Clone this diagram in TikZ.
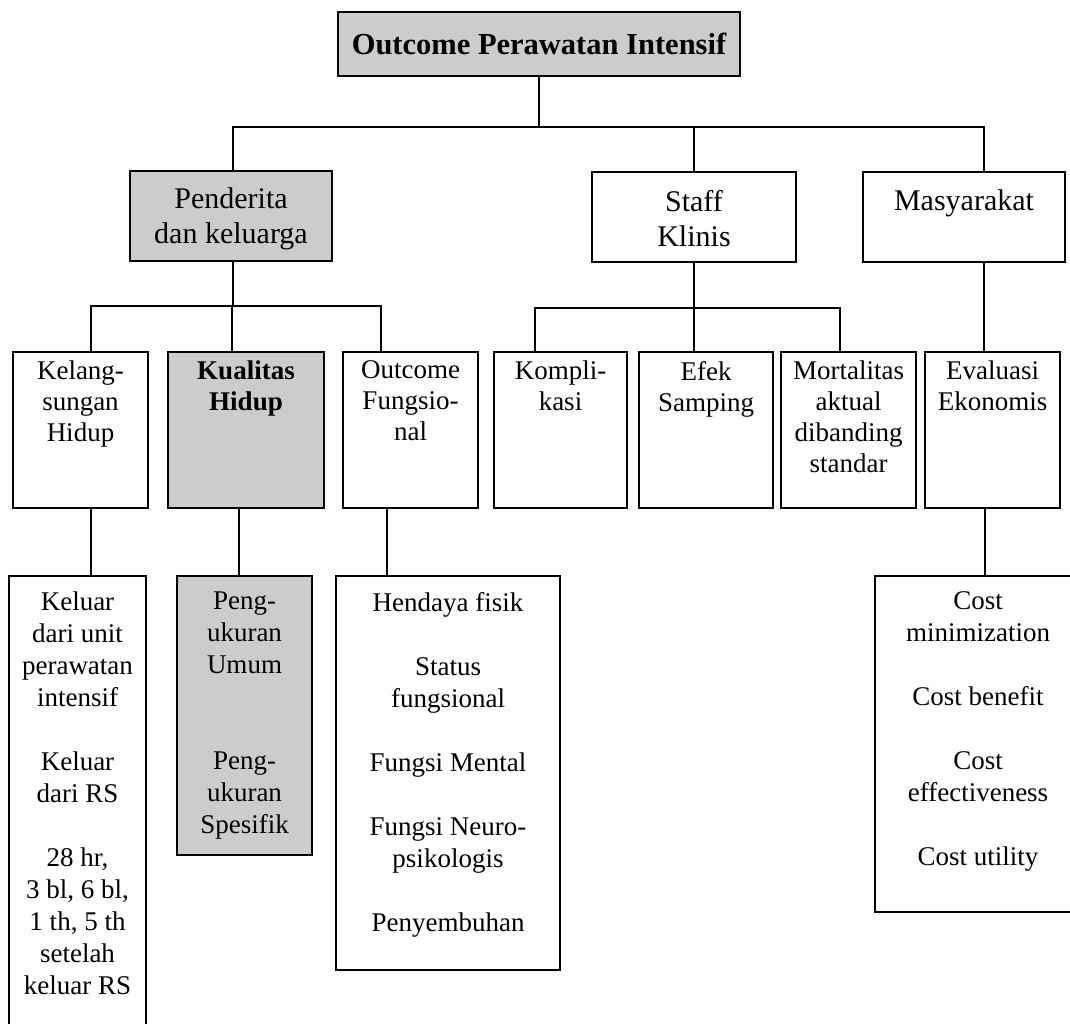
\documentclass[tikz,border=0pt]{standalone}
\usepackage{fontspec}
\setmainfont{Liberation Serif}
\begin{document}
\begin{tikzpicture}[x=1pt,y=-1pt,
  bx/.style={draw=black, line width=2.4pt, fill=white, inner sep=0pt},
  shaded/.style={bx, fill=black!20},
  conn/.style={draw=black, line width=2pt},
  tl/.style={inner sep=0pt, align=center, anchor=north, font=\fontsize{27}{32}\selectfont},
  tm/.style={inner sep=0pt, align=center, anchor=north, font=\fontsize{27}{31}\selectfont},
  tt/.style={inner sep=0pt, align=center, anchor=north, font=\fontsize{30}{35}\selectfont}]
\path[use as bounding box, clip] (0,0) rectangle (1070,1023);
\fill[white] (0,0) rectangle (1070,1023);

% title
\node[shaded, minimum width=402pt, minimum height=64pt] (T) at (539,44)
  {\fontsize{30.5}{36}\selectfont\bfseries Outcome Perawatan Intensif};

% level 2
\node[shaded, minimum width=202pt, minimum height=90pt] (P) at (231,216) {};
\node[bx, minimum width=204pt, minimum height=90pt] (S) at (694,217) {};
\node[bx, minimum width=202pt, minimum height=90pt] (M) at (964,217) {};
\node[tt] (Pt) at ([yshift=-18pt]P.north) {Penderita\\dan keluarga};
\node[tt] (St) at ([yshift=-19pt]S.north) {Staff\\Klinis};
\node[tt] (Mt) at ([yshift=-19pt]M.north) {Masyarakat};

% level 3
\node[bx, minimum width=135pt, minimum height=156pt] (Kel) at (80.5,430) {};
\node[shaded, minimum width=156pt, minimum height=156pt] (Kual) at (246,430) {};
\node[bx, minimum width=135pt, minimum height=156pt] (OF) at (410.5,430) {};
\node[bx, minimum width=133pt, minimum height=156pt] (Ko) at (560.5,430) {};
\node[bx, minimum width=134pt, minimum height=156pt] (Ef) at (706,430) {};
\node[bx, minimum width=135pt, minimum height=156pt] (Mo) at (848.5,430) {};
\node[bx, minimum width=135pt, minimum height=156pt] (Ev) at (992.5,430) {};
\node[tm] (Kelt) at ([yshift=-10pt]Kel.north) {Kelang-\\sungan\\Hidup};
\node[tm] (Kualt) at ([yshift=-10pt]Kual.north) {\bfseries Kualitas\\\bfseries Hidup};
\node[tm] (OFt) at ([yshift=-10pt]OF.north) {Outcome\\Fungsio-\\nal};
\node[tm] (Kot) at ([yshift=-10pt]Ko.north) {Kompli-\\kasi};
\node[tm] (Eft) at ([yshift=-10pt]Ef.north) {Efek\\Samping};
\node[tm] (Mot) at ([yshift=-10pt]Mo.north) {Mortalitas\\aktual\\dibanding\\standar};
\node[tm] (Evt) at ([yshift=-10pt]Ev.north) {Evaluasi\\Ekonomis};

% level 4
\node[bx, minimum width=137pt, minimum height=464pt] (Kl) at (77.5,808) {};
\node[shaded, minimum width=135pt, minimum height=279pt] (Pg) at (244.5,715.5) {};
\node[bx, minimum width=224pt, minimum height=394pt] (Hd) at (448,773) {};
\node[bx, minimum width=206pt, minimum height=336pt] (Ct) at (978,744) {};
\node[tl] (Klt) at ([yshift=-17pt]Kl.north)
  {Keluar\\dari unit\\perawatan\\intensif\\[32pt]Keluar\\dari RS\\[32pt]28 hr,\\3 bl, 6 bl,\\1 th, 5 th\\setelah\\keluar RS};
\node[tl] (Pgt) at ([yshift=-17pt]Pg.north)
  {Peng-\\ukuran\\Umum\\[64pt]Peng-\\ukuran\\Spesifik};
\node[tl] (Hdt) at ([yshift=-17pt]Hd.north)
  {Hendaya fisik\\[32pt]Status\\fungsional\\[32pt]Fungsi Mental\\[32pt]Fungsi Neuro-\\psikologis\\[32pt]Penyembuhan};
\node[tl] (Ctt) at ([yshift=-17pt]Ct.north)
  {Cost\\minimization\\[32pt]Cost benefit\\[32pt]Cost\\effectiveness\\[32pt]Cost utility};

% connectors
\coordinate (bT) at (539,127);
\draw[conn] (T.south) -- (bT);
\draw[conn] (bT) -| ([xshift=2pt]P.north);
\draw[conn] (bT) -| (S.north);
\draw[conn] (bT) -| ([xshift=20pt]M.north);

\coordinate (bP) at (233,306);
\draw[conn] ([xshift=2pt]P.south) -- (bP);
\draw[conn] (bP) -| ([xshift=10.5pt]Kel.north);
\draw[conn] (bP) -| ([xshift=-14pt]Kual.north);
\draw[conn] (bP) -| ([xshift=-29.5pt]OF.north);

\coordinate (bS) at (694,308);
\draw[conn] (S.south) -- (bS);
\draw[conn] (bS) -| ([xshift=-25.5pt]Ko.north);
\draw[conn] (bS) -- (bS |- Ef.north);
\draw[conn] (bS) -| ([xshift=-8.5pt]Mo.north);

\draw[conn] ([xshift=20pt]M.south) -- ([xshift=20pt]M.south |- Ev.north);

\draw[conn] ([xshift=10.5pt]Kel.south) -- ([xshift=10.5pt]Kel.south |- Kl.north);
\draw[conn] ([xshift=-7pt]Kual.south) -- ([xshift=-7pt]Kual.south |- Pg.north);
\draw[conn] ([xshift=-23.5pt]OF.south) -- ([xshift=-23.5pt]OF.south |- Hd.north);
\draw[conn] ([xshift=-7.5pt]Ev.south) -- ([xshift=-7.5pt]Ev.south |- Ct.north);
\end{tikzpicture}
\end{document}
